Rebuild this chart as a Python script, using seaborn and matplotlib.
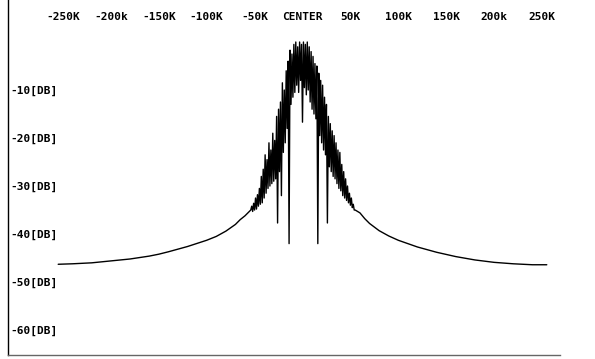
import numpy as np
import pandas as pd
import matplotlib
matplotlib.use("Agg")
import matplotlib.pyplot as plt
import seaborn as sns

# smooth skirts either side of the centre (kHz offset, level in dB)
left_khz = [-255, -240, -220, -200, -180, -160, -150, -140, -120, -100,
            -90, -80, -70, -65, -60, -55]
left_db = [-46.3, -46.2, -46.0, -45.6, -45.2, -44.6, -44.2, -43.7, -42.6, -41.3,
           -40.5, -39.4, -38.0, -37.0, -36.2, -35.2]

right_khz = [55, 60, 65, 70, 80, 90, 100, 120, 140, 160, 180, 200, 220, 240, 255]
right_db = [-35.0, -35.6, -36.8, -37.8, -39.3, -40.4, -41.3, -42.7, -43.8,
            -44.7, -45.4, -45.9, -46.2, -46.4, -46.4]

# noisy centre band, one reading per kHz from -54 to +54
center_db = [
    -35.0, -34.2, -35.3, -33.6, -35.0, -32.5, -34.8, -31.8, -34.2, -30.5,
    -33.8, -28.0, -33.5, -26.5, -32.5, -23.5, -31.5, -24.5, -30.5, -21.0,
    -30.0, -22.5, -29.5, -19.0, -29.0, -20.5, -28.5, -15.5, -37.7, -14.0,
    -27.0, -12.5, -32.0, -8.5, -23.0, -10.0, -21.0, -6.0, -18.0, -4.0,
    -42.0, -1.7, -13.0, -2.5, -11.5, -0.5, -10.5, 0.0, -9.0, -1.0,
    -10.5, 0.0, -8.0, -0.5, -16.7, 0.0, -9.5, -0.5, -11.0, 0.0,
    -10.0, -1.0, -12.5, -2.0, -14.0, -3.0, -15.0, -4.5, -16.0, -5.0,
    -42.0, -6.5, -19.5, -8.0, -21.0, -9.0, -22.5, -11.5, -23.5, -13.0,
    -37.7, -15.5, -26.0, -17.0, -27.0, -18.5, -28.0, -19.5, -28.5, -21.0,
    -29.5, -22.5, -30.5, -23.0, -31.0, -25.5, -32.0, -27.0, -32.5, -28.5,
    -33.0, -30.0, -33.5, -31.5, -34.0, -32.5, -34.5, -33.8, -35.0,
]
center_khz = list(range(-54, 55))

x_ticks = [-250, -200, -150, -100, -50, 0, 50, 100, 150, 200, 250]
x_labels = ["-250K", "-200k", "-150K", "-100K", "-50K", "CENTER",
            "50K", "100K", "150K", "200k", "250K"]
y_ticks = [-10, -20, -30, -40, -50, -60]
y_labels = ["-10[DB]", "-20[DB]", "-30[DB]", "-40[DB]", "-50[DB]", "-60[DB]"]

df = pd.DataFrame({
    "khz": left_khz + center_khz + right_khz,
    "db": left_db + center_db + right_db,
})

sns.set_style("white")
plt.rcParams["font.family"] = ["DejaVu Sans Mono"]

fig = plt.figure(figsize=(5.95, 3.59), dpi=100)
ax = fig.add_axes([8 / 595, 4 / 359, 552 / 595, 355 / 359])

sns.lineplot(data=df, x="khz", y="db", color="black", linewidth=1.0,
             estimator=None, ax=ax)

ax.set_xlim(-307.4, 268.8)
ax.set_ylim(-65.2, 8.75)
ax.set_xlabel("")
ax.set_ylabel("")

ax.xaxis.tick_top()
ax.set_xticks(x_ticks)
ax.set_xticklabels(x_labels, fontsize=8, fontweight="bold", color="black")
ax.tick_params(axis="x", length=0, pad=-12.2)
for lbl in ax.get_xticklabels():
    lbl.set_va("center")

ax.set_yticks(y_ticks)
ax.set_yticklabels(y_labels, fontsize=8, fontweight="bold", color="black")
ax.tick_params(axis="y", length=0, pad=-1.5)
for lbl in ax.get_yticklabels():
    lbl.set_ha("left")

for side in ["top", "right"]:
    ax.spines[side].set_visible(False)
ax.spines["left"].set_color("black")
ax.spines["left"].set_linewidth(1.0)
ax.spines["bottom"].set_color("#666666")
ax.spines["bottom"].set_linewidth(1.0)

fig.savefig("out.png", dpi=100)
